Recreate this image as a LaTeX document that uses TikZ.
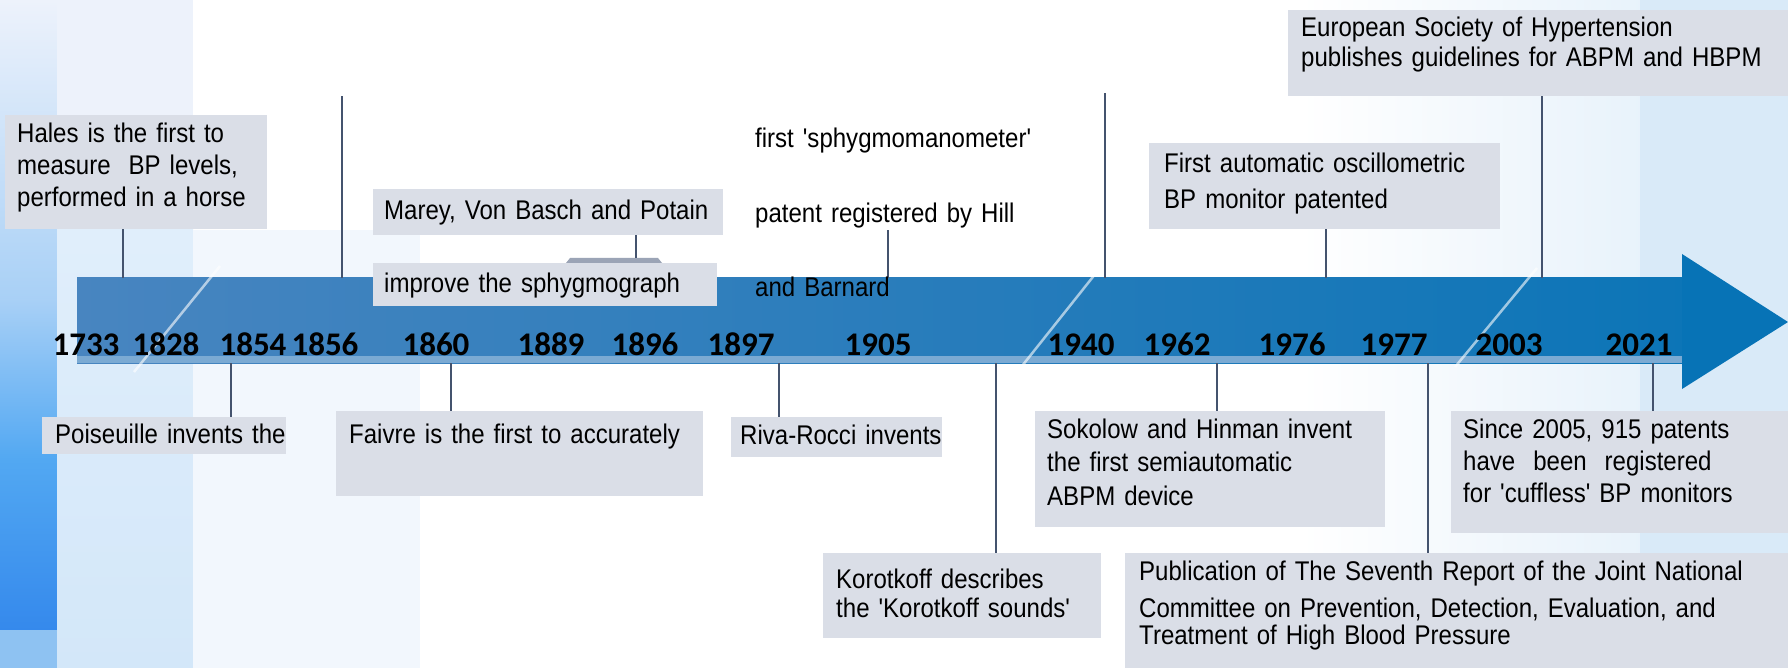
\documentclass[tikz,border=0pt]{standalone}
\usepackage{fontspec}
\newfontfamily\notefont{Liberation Sans}[FakeStretch=0.89]
\newfontfamily\yearfont{Carlito}
\definecolor{boxgray}{HTML}{DADEE7}
\definecolor{stemcol}{HTML}{44536E}
\definecolor{barleft}{HTML}{4885C0}
\definecolor{barright}{HTML}{0C75B7}
\definecolor{barhead}{HTML}{0773B6}
\definecolor{barlow}{HTML}{7BAAD3}
\definecolor{bracketgray}{HTML}{9BA4B6}
\definecolor{bgpale}{HTML}{EDF2FB}
\definecolor{bglight}{HTML}{A8D0F6}
\definecolor{bgbright}{HTML}{52A8F2}
\definecolor{bgdeep}{HTML}{3589EC}
\definecolor{bgsoft}{HTML}{8EC2F2}
\definecolor{bgband}{HTML}{D3E7F9}
\definecolor{bgfaint}{HTML}{F2F7FD}
\definecolor{bgright}{HTML}{D9EAF8}
\begin{document}
\begin{tikzpicture}[x=1pt,y=-1pt,
    stem/.style={stemcol,line width=2pt},
    evbox/.style={fill=boxgray,inner sep=0pt},
    evtext/.style={anchor=base west,inner sep=0pt,text width=660pt,align=left,font={\notefont\fontsize{27}{#1}\selectfont}},
    evtext/.default=32,
    yr/.style={anchor=base,inner sep=0pt,font={\yearfont\bfseries\fontsize{33}{33}\selectfont}},
    brk/.style={white,opacity=0.6,line width=2.5pt}]
\useasboundingbox (0,0) rectangle (1788,668);
\fill[white] (0,0) rectangle (1788,668);
\fill[top color=bgpale,bottom color=bglight] (0,0) rectangle (57,300);
\fill[top color=bglight,bottom color=bgbright] (0,300) rectangle (57,460);
\fill[top color=bgbright,bottom color=bgdeep] (0,460) rectangle (57,630);
\fill[bgsoft] (0,630) rectangle (57,668);
\fill[bgpale] (57,0) rectangle (193,230);
\fill[top color=bgband!70,bottom color=bgband] (57,230) rectangle (193,668);
\fill[bgfaint] (193,230) rectangle (420,668);
\fill[left color=white,right color=bgright!60] (1300,0) rectangle (1640,668);
\fill[bgright] (1640,0) rectangle (1788,668);
\fill[left color=barleft,right color=barright] (77,278) rectangle (1688,363);
\fill[barlow] (77,356) rectangle (1688,363);
\fill[barhead] (1682,254) -- (1788,322) -- (1682,389) -- cycle;
\draw[brk] (220,266) -- (134,372);
\draw[brk] (1100,268) -- (1022,366);
\draw[brk] (1537,268) -- (1455,367);
\fill[bracketgray] (566,263) -- (570,258) -- (658,258) -- (662,263) -- cycle;
\node[evbox,minimum width=262pt,minimum height=114pt] (hales) at (136,172) {};
\node[evbox,minimum width=350pt,minimum height=46pt] (marey) at (548,212) {};
\node[evbox,minimum width=344pt,minimum height=43pt] (improve) at (545,284.5) {};
\node[evbox,minimum width=351pt,minimum height=86pt] (osc) at (1324.5,186) {};
\node[evbox,minimum width=500pt,minimum height=86pt] (esh) at (1538,53) {};
\node[evbox,minimum width=244pt,minimum height=37pt] (pois) at (164,435.5) {};
\node[evbox,minimum width=367pt,minimum height=85pt] (faiv) at (519.5,453.5) {};
\node[evbox,minimum width=211pt,minimum height=40pt] (riva) at (836.5,437) {};
\node[evbox,minimum width=278pt,minimum height=85pt] (kor) at (962,595.5) {};
\node[evbox,minimum width=350pt,minimum height=116pt] (sok) at (1210,469) {};
\node[evbox,minimum width=337pt,minimum height=122pt] (since) at (1619.5,472) {};
\node[evbox,minimum width=663pt,minimum height=115pt] (pub) at (1456.5,610.5) {};
\coordinate (halesfoot) at (123,278);
\coordinate (blankfoot) at (342,278);
\coordinate (blankend) at (342,96);
\coordinate (mareyfoot) at (636,258);
\coordinate (manofoot) at (888,278);
\coordinate (manoend) at (888,230);
\coordinate (openfoot) at (1105,278);
\coordinate (openend) at (1105,93);
\coordinate (oscfoot) at (1326,278);
\coordinate (eshfoot) at (1542,278);
\coordinate (poisfoot) at (231,363);
\coordinate (faivfoot) at (451,363);
\coordinate (rivafoot) at (779,363);
\coordinate (korfoot) at (996,363);
\coordinate (sokfoot) at (1217,363);
\coordinate (pubfoot) at (1428,363);
\coordinate (sincefoot) at (1653,363);
\foreach \f/\b in {halesfoot/hales.south,mareyfoot/marey.south,oscfoot/osc.south,eshfoot/esh.south,
    poisfoot/pois.north,faivfoot/faiv.north,rivafoot/riva.north,korfoot/kor.north,
    sokfoot/sok.north,pubfoot/pub.north,sincefoot/since.north}
  \draw[stem] (\f) -- (\f |- \b);
\draw[stem] (blankfoot) -- (blankend);
\draw[stem] (manofoot) -- (manoend);
\draw[stem] (openfoot) -- (openend);
\foreach \yx/\yr in {86/1733,166/1828,253/1854,325/1856,436/1860,551/1889,645/1896,741/1897,
    878/1905,1081/1940,1177/1962,1292/1976,1394/1977,1509/2003,1639/2021}
  \node[yr] (y\yr) at (\yx,355) {\yr};
\node[evtext] (halestxt) at (17,143) {Hales is the first to\\measure\ \ BP levels,\\performed\ in a horse};
\node[evtext] (mareytxt) at (384,220) {Marey, Von Basch and Potain};
\node[evtext] (improvetxt) at (384,293) {improve the sphygmograph};
\node[evtext=74.5] (manotxt) at (755,148) {first 'sphygmomanometer'\\patent registered by Hill\\and Barnard};
\node[evtext=36] (osctxt) at (1164,173) {First automatic oscillometric\\BP monitor patented};
\node[evtext=30] (eshtxt) at (1301,37) {European Society of Hypertension\\publishes guidelines for ABPM and HBPM};
\node[evtext] (poistxt) at (55,443) {Poiseuille invents the};
\node[evtext] (faivtxt) at (349,443) {Faivre is the first to accurately};
\node[evtext] (rivatxt) at (740,444) {Riva-Rocci invents};
\node[evtext=29] (kortxt) at (836,588) {Korotkoff describes\\the 'Korotkoff sounds'};
\node[evtext=33.5] (soktxt) at (1047,438) {Sokolow and Hinman invent\\the first semiautomatic\\ABPM device};
\node[evtext] (sincetxt) at (1463,438) {Since 2005, 915 patents\\have\ \ been\ \ registered\\for 'cuffless' BP monitors};
\node[evtext] (pubtxt) at (1139,580) {Publication of The Seventh Report of the Joint National\\[5pt]Committee on Prevention, Detection, Evaluation, and\\[-5pt]Treatment of High Blood Pressure};
\end{tikzpicture}
\end{document}
